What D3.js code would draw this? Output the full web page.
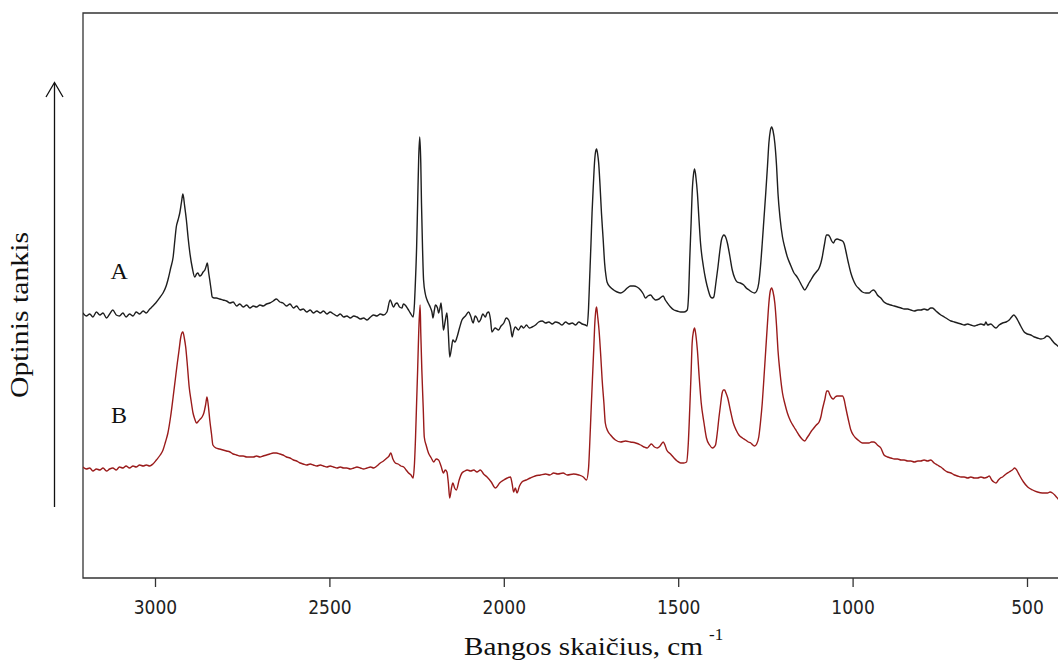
<!DOCTYPE html>
<html>
<head>
<meta charset="utf-8">
<script src="https://cdn.jsdelivr.net/npm/d3@7"></script>
<style>
  html, body { margin: 0; padding: 0; background: #fff; overflow: hidden; }
  svg { display: block; }
</style>
</head>
<body>
<svg id="chart" width="1058" height="662"></svg>
<script>
// ---- Data: [wavenumber (cm^-1), optical density (arb. units)] ----
const spectrumA = [
[3207,2.65],[3197,2.62],[3187,2.64],[3178,2.61],[3168,2.66],[3158,2.63],[3149,2.65],[3139,2.60],[3130,2.64],[3121,2.68],[3111,2.63],[3102,2.62],[3092,2.65],[3083,2.61],[3073,2.64],[3063,2.62],[3054,2.66],[3044,2.64],[3034,2.67],[3025,2.65],[3015,2.69],[3006,2.72],
[2998,2.75],[2985,2.81],[2977,2.85],[2968,2.92],[2963,2.98],[2955,3.10],[2948,3.21],[2943,3.38],[2939,3.51],[2934,3.58],[2929,3.65],[2924,3.76],[2920,3.84],[2915,3.72],[2910,3.58],[2905,3.40],[2900,3.25],[2893,3.10],[2886,3.01],[2881,3.04],[2877,3.05],[2872,3.02],[2867,3.03],[2862,3.06],[2857,3.08],[2853,3.12],[2850,3.15],[2846,3.05],[2843,2.98],[2839,2.88],[2836,2.81],[2830,2.80],[2824,2.80],[2815,2.79],[2805,2.78],
[2795,2.77],[2785,2.75],[2776,2.76],[2766,2.72],[2757,2.74],[2747,2.71],[2737,2.73],[2728,2.70],[2718,2.72],[2709,2.71],[2699,2.73],[2690,2.72],[2680,2.74],[2671,2.75],[2661,2.77],[2652,2.79],[2642,2.76],[2633,2.75],[2623,2.72],[2613,2.74],[2603,2.70],[2594,2.72],[2584,2.68],[2575,2.69],[2565,2.66],[2555,2.68],[2546,2.65],[2536,2.67],[2526,2.65],[2517,2.67],[2507,2.64],[2498,2.66],[2488,2.64],[2478,2.62],[2469,2.64],[2459,2.61],[2450,2.62],[2440,2.60],[2430,2.62],[2421,2.61],[2411,2.59],[2402,2.60],[2392,2.58],[2382,2.61],[2373,2.63],[2364,2.62],[2354,2.64],[2345,2.63],[2335,2.66],
[2326,2.78],[2316,2.71],[2311,2.74],[2306,2.75],[2299,2.71],[2292,2.70],[2288,2.74],[2283,2.73],[2275,2.69],[2268,2.65],[2260,2.61],[2256,2.75],[2254,2.91],[2250,3.30],[2247,3.75],[2244,4.20],[2241,4.41],[2238,4.15],[2236,3.75],[2233,3.30],[2230,2.98],[2225,2.84],[2220,2.78],[2215,2.74],[2211,2.71],[2206,2.66],[2203,2.60],[2199,2.68],[2196,2.73],[2190,2.70],[2187,2.65],[2183,2.70],[2180,2.75],[2176,2.60],[2173,2.48],[2168,2.57],[2163,2.65],[2159,2.45],[2155,2.21],[2150,2.30],[2146,2.38],[2140,2.36],[2134,2.41],[2127,2.50],[2120,2.58],[2110,2.62],[2101,2.66],[2095,2.62],[2088,2.55],[2082,2.62],[2077,2.60],[2072,2.56],[2067,2.58],[2060,2.64],[2053,2.61],[2048,2.65],[2043,2.66],[2038,2.58],[2034,2.46],[2025,2.50],[2015,2.48],[2008,2.52],[2000,2.55],[1993,2.60],[1986,2.58],[1981,2.52],[1976,2.41],[1972,2.47],[1967,2.51],[1958,2.48],[1950,2.52],[1943,2.50],[1935,2.53],[1927,2.50],[1919,2.51],[1909,2.53],[1900,2.56],[1890,2.57],[1880,2.55],[1871,2.56],[1861,2.54],[1852,2.56],[1842,2.55],[1833,2.53],[1823,2.56],[1813,2.54],[1804,2.55],[1794,2.53],[1785,2.56],[1775,2.54],[1766,2.53],[1761,2.52],
[1757,2.70],[1754,2.98],[1750,3.35],[1747,3.65],[1743,3.95],[1740,4.15],[1737,4.26],[1734,4.29],[1731,4.24],[1728,4.15],[1724,3.92],[1720,3.65],[1715,3.38],[1711,3.15],[1707,3.02],[1704,2.96],[1695,2.91],[1685,2.88],[1675,2.86],[1665,2.85],[1655,2.87],[1646,2.90],[1637,2.92],[1627,2.92],[1618,2.91],[1608,2.88],[1600,2.84],[1594,2.80],[1587,2.82],[1579,2.83],[1572,2.80],[1565,2.78],[1555,2.79],[1543,2.82],[1537,2.78],[1531,2.75],[1522,2.71],[1512,2.68],[1503,2.67],[1493,2.66],[1483,2.66],[1474,2.68],
[1470,2.85],[1467,3.18],[1463,3.55],[1460,3.85],[1456,4.04],[1453,4.09],[1449,4.00],[1445,3.85],[1441,3.62],[1436,3.35],[1428,3.12],[1421,2.98],[1414,2.88],[1407,2.81],[1402,2.80],[1398,2.81],[1392,2.95],[1386,3.11],[1381,3.26],[1376,3.38],[1372,3.42],[1369,3.43],[1364,3.41],[1359,3.35],[1352,3.22],[1345,3.08],[1338,3.00],[1331,2.96],[1322,2.95],[1312,2.93],[1305,2.90],[1297,2.88],[1289,2.86],[1281,2.85],[1275,2.87],[1269,2.95],[1264,3.12],[1259,3.35],[1254,3.60],[1249,3.85],[1244,4.12],[1240,4.35],[1236,4.47],[1232,4.51],[1228,4.47],[1223,4.35],[1218,4.12],[1214,3.85],[1208,3.60],[1201,3.41],[1194,3.30],[1187,3.21],[1178,3.13],[1168,3.05],[1161,3.02],[1154,2.98],[1145,2.92],[1137,2.88],[1131,2.91],[1125,2.95],[1118,2.99],[1111,3.03],[1104,3.06],[1096,3.10],[1091,3.15],[1087,3.21],[1081,3.33],[1075,3.43],[1070,3.43],[1065,3.41],[1060,3.37],[1055,3.35],[1050,3.38],[1044,3.39],[1036,3.38],[1029,3.37],[1024,3.34],[1020,3.28],[1012,3.15],[1005,3.05],[998,2.98],[991,2.93],[981,2.89],[972,2.86],[962,2.85],[953,2.85],[946,2.87],[940,2.88],[934,2.86],[929,2.83],[919,2.80],
[910,2.76],[900,2.74],[890,2.73],[880,2.72],[871,2.71],[861,2.70],[852,2.69],[842,2.69],[833,2.68],[823,2.67],[813,2.68],[804,2.68],[795,2.69],[785,2.68],[776,2.70],[771,2.70],[761,2.67],[747,2.63],[737,2.61],[728,2.59],[718,2.57],[708,2.56],[699,2.55],[689,2.54],[680,2.53],[670,2.54],[661,2.53],[651,2.52],[642,2.53],[632,2.54],[622,2.53],[618,2.56],[613,2.53],[604,2.54],[594,2.51],[589,2.50],[580,2.53],[570,2.55],[560,2.56],[551,2.58],[544,2.61],[538,2.63],[532,2.61],[527,2.58],[518,2.52],[508,2.46],[499,2.44],[489,2.43],[479,2.41],[470,2.40],[460,2.39],[450,2.40],[443,2.42],[436,2.41],[429,2.38],[422,2.35],[415,2.33],[408,2.31],[400,2.30]
];

const spectrumB = [
[3207,1.11],[3197,1.09],[3187,1.10],[3178,1.07],[3168,1.09],[3158,1.08],[3149,1.10],[3139,1.07],[3130,1.09],[3121,1.10],[3111,1.08],[3102,1.11],[3092,1.10],[3083,1.12],[3073,1.10],[3063,1.12],[3054,1.11],[3044,1.13],[3034,1.12],[3025,1.13],[3015,1.12],[3006,1.14],
[2996,1.18],[2985,1.23],[2977,1.28],[2970,1.36],[2963,1.45],[2955,1.62],[2948,1.81],[2942,1.98],[2936,2.15],[2931,2.28],[2926,2.41],[2923,2.45],[2920,2.46],[2916,2.40],[2912,2.31],[2907,2.12],[2902,1.91],[2896,1.76],[2891,1.65],[2886,1.59],[2881,1.55],[2875,1.57],[2870,1.59],[2865,1.61],[2860,1.65],[2855,1.73],[2851,1.81],[2847,1.72],[2843,1.58],[2838,1.44],[2834,1.33],[2825,1.30],[2815,1.29],
[2805,1.28],[2795,1.27],[2785,1.26],[2776,1.24],[2766,1.23],[2757,1.22],[2747,1.22],[2737,1.21],[2728,1.21],[2718,1.21],[2709,1.22],[2699,1.21],[2690,1.22],[2680,1.23],[2671,1.24],[2661,1.25],[2652,1.25],[2642,1.24],[2633,1.23],[2623,1.21],[2613,1.20],[2603,1.18],[2594,1.17],[2584,1.15],[2575,1.14],[2565,1.13],[2555,1.14],[2546,1.13],[2536,1.12],[2526,1.13],[2517,1.12],[2507,1.11],[2498,1.12],[2488,1.11],[2478,1.10],[2469,1.11],[2459,1.10],[2450,1.10],[2440,1.09],[2430,1.10],[2421,1.11],[2411,1.10],[2402,1.09],[2392,1.10],[2382,1.11],
[2373,1.10],[2364,1.12],[2354,1.15],[2345,1.17],[2335,1.20],[2329,1.22],[2324,1.25],[2318,1.19],[2311,1.15],[2303,1.14],[2295,1.12],[2287,1.11],[2280,1.08],[2273,1.05],[2266,1.03],[2260,1.00],[2256,1.15],[2253,1.41],[2250,1.75],[2247,2.08],[2244,2.45],[2240,2.73],[2238,2.45],[2235,2.08],[2231,1.70],[2228,1.41],[2222,1.32],[2216,1.25],[2208,1.20],[2201,1.16],[2194,1.19],[2187,1.18],[2180,1.12],[2173,1.05],[2168,1.08],[2163,1.06],[2159,0.95],[2155,0.80],[2150,0.90],[2146,0.95],[2141,0.90],[2136,0.88],[2128,0.98],[2120,1.05],[2112,1.07],[2105,1.08],[2095,1.07],[2086,1.08],[2077,1.06],[2067,1.08],[2058,1.04],[2048,1.01],[2036,0.96],[2024,0.90],[2012,0.95],[2000,0.98],[1990,1.00],[1981,1.01],[1976,0.94],[1972,0.86],[1967,0.90],[1962,0.85],[1955,0.92],[1948,0.96],[1936,0.98],[1924,1.00],[1910,1.02],[1895,1.03],[1880,1.04],[1868,1.03],[1857,1.05],[1845,1.04],[1830,1.05],[1818,1.03],[1800,1.04],[1785,1.03],[1772,1.01],[1763,0.98],
[1757,1.10],[1754,1.31],[1750,1.65],[1746,1.98],[1742,2.30],[1739,2.55],[1736,2.68],[1734,2.71],[1731,2.62],[1727,2.48],[1722,2.22],[1718,1.98],[1713,1.75],[1709,1.55],[1702,1.47],[1694,1.43],[1680,1.38],[1665,1.36],[1651,1.37],[1637,1.36],[1622,1.35],[1608,1.33],[1598,1.31],[1589,1.30],[1583,1.32],[1577,1.34],[1568,1.31],[1560,1.30],[1552,1.32],[1543,1.36],[1538,1.33],[1533,1.28],[1522,1.24],[1512,1.20],[1503,1.17],[1493,1.15],[1484,1.15],[1476,1.16],
[1471,1.35],[1467,1.68],[1463,2.05],[1460,2.35],[1456,2.47],[1453,2.50],[1449,2.42],[1445,2.28],[1440,2.02],[1434,1.75],[1426,1.55],[1419,1.40],[1410,1.33],[1402,1.30],[1397,1.31],[1393,1.33],[1388,1.45],[1383,1.61],[1378,1.75],[1374,1.85],[1370,1.88],[1367,1.88],[1363,1.85],[1358,1.80],[1350,1.67],[1342,1.55],[1334,1.48],[1326,1.43],[1316,1.40],[1307,1.38],[1299,1.36],[1292,1.35],[1286,1.33],[1281,1.32],[1275,1.34],[1269,1.41],[1264,1.56],[1259,1.75],[1254,2.01],[1249,2.28],[1244,2.55],[1240,2.75],[1236,2.87],[1232,2.90],[1228,2.86],[1223,2.75],[1218,2.52],[1214,2.28],[1208,2.05],[1201,1.85],[1194,1.74],[1187,1.65],[1178,1.57],[1168,1.51],[1161,1.47],[1154,1.43],[1145,1.39],[1137,1.37],[1131,1.40],[1125,1.43],[1118,1.47],[1111,1.50],[1104,1.53],[1096,1.56],[1091,1.61],[1087,1.68],[1080,1.78],[1074,1.87],[1070,1.87],[1065,1.83],[1060,1.80],[1055,1.79],[1050,1.81],[1044,1.82],[1036,1.82],[1029,1.82],[1024,1.78],[1020,1.71],[1012,1.58],[1005,1.48],[998,1.43],[991,1.40],[981,1.37],[972,1.35],[962,1.35],[953,1.35],[946,1.36],[940,1.36],[934,1.35],[929,1.33],[919,1.30],
[910,1.23],[900,1.21],[890,1.20],[880,1.19],[871,1.19],[861,1.18],[852,1.18],[842,1.17],[833,1.17],[823,1.16],[813,1.17],[805,1.17],[795,1.18],[785,1.17],[776,1.18],[766,1.15],[757,1.13],[747,1.11],[737,1.08],[728,1.06],[718,1.05],[708,1.03],[699,1.02],[689,1.01],[680,1.01],[670,1.00],[661,1.01],[651,1.00],[642,1.00],[632,1.01],[622,1.00],[613,1.01],[608,1.02],[601,0.98],[595,0.96],[589,0.95],[582,0.98],[576,1.00],[570,1.01],[560,1.04],[551,1.06],[542,1.08],[535,1.10],[528,1.07],[522,1.03],[510,0.96],[498,0.91],[484,0.88],[470,0.86],[456,0.85],[441,0.85],[434,0.86],[427,0.85],[418,0.82],[408,0.78],[400,0.77]
];

const xTicks = [3000, 2500, 2000, 1500, 1000, 500];
const seriesNames = ["A", "B"];
const seriesColors = ["#1e1e1e", "#9a1b1b"];
const labelWave = 3103;
const labelValue = [2.99, 1.55];

// ---- Layout ----
const svg = d3.select("#chart");
const plotLeft = 83, plotTop = 13, plotBottom = 578, plotRight = 1090;

const x = d3.scaleLinear().domain([3000, 500]).range([155, 1027]);
const y = d3.scaleLinear().domain([0, 5.65]).range([plotBottom, plotTop]);

svg.append("defs").append("clipPath").attr("id", "clip")
  .append("rect").attr("x", plotLeft).attr("y", plotTop)
  .attr("width", plotRight - plotLeft).attr("height", plotBottom - plotTop);

// frame (right side falls outside the picture)
svg.append("path")
  .attr("d", `M${plotRight},${plotTop}H${plotLeft}V${plotBottom}H${plotRight}`)
  .attr("fill", "none").attr("stroke", "#333").attr("stroke-width", 1.3);

// x axis
const xAxis = d3.axisBottom(x).tickValues(xTicks).tickSize(9).tickFormat(d3.format("d"));
const gx = svg.append("g").attr("transform", `translate(0,${plotBottom})`).call(xAxis);
gx.select(".domain").remove();
gx.selectAll(".tick line").attr("stroke", "#333").attr("stroke-width", 1.3);
gx.selectAll(".tick text")
  .attr("y", 23)
  .attr("dy", "0.71em")
  .style("font-family", "'Liberation Sans Narrow','Arial Narrow','DejaVu Sans Condensed',sans-serif")
  .style("font-size", "19px")
  .attr("fill", "#222");

// lines
const line = d3.line().x(d => x(d[0])).y(d => y(d[1])).curve(d3.curveMonotoneX);
const gLines = svg.append("g").attr("clip-path", "url(#clip)");
[spectrumA, spectrumB].forEach((data, i) => {
  gLines.append("path").datum(data)
    .attr("d", line)
    .attr("fill", "none")
    .attr("stroke", seriesColors[i])
    .attr("stroke-width", 1.4)
    .attr("stroke-linejoin", "round");
});

// series labels
seriesNames.forEach((name, i) => {
  svg.append("text")
    .attr("x", x(labelWave)).attr("y", y(labelValue[i]))
    .attr("text-anchor", "middle")
    .style("font-family", "'Liberation Serif','Times New Roman',serif")
    .style("font-size", "24px")
    .attr("fill", "#111")
    .text(name);
});

// x title
svg.append("text")
  .attr("x", 464).attr("y", 655)
  .attr("textLength", 239).attr("lengthAdjust", "spacingAndGlyphs")
  .style("font-family", "'Liberation Serif','Times New Roman',serif")
  .style("font-size", "25px")
  .attr("fill", "#111")
  .text("Bangos skaičius, cm");
svg.append("text")
  .attr("x", 709).attr("y", 640)
  .style("font-family", "'Liberation Serif','Times New Roman',serif")
  .style("font-size", "17px")
  .attr("fill", "#111")
  .text("-1");

// y title
svg.append("text")
  .attr("transform", "translate(28,315) rotate(-90)")
  .attr("text-anchor", "middle")
  .attr("textLength", 166).attr("lengthAdjust", "spacingAndGlyphs")
  .style("font-family", "'Liberation Serif','Times New Roman',serif")
  .style("font-size", "25px")
  .attr("fill", "#111")
  .text("Optinis tankis");

// arrow
svg.append("line").attr("x1", 54.5).attr("x2", 54.5).attr("y1", 507).attr("y2", 83)
  .attr("stroke", "#111").attr("stroke-width", 1.3);
svg.append("path").attr("d", "M46,97L54.5,82.5L63,97")
  .attr("fill", "none").attr("stroke", "#111").attr("stroke-width", 1.3);
</script>
</body>
</html>
